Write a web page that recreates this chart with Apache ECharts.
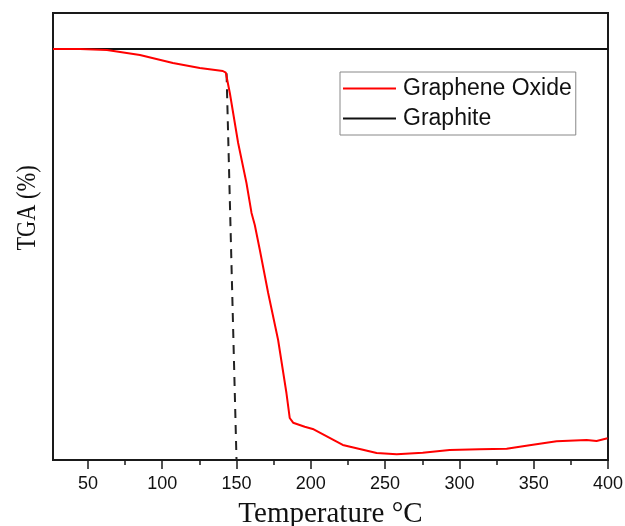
<!DOCTYPE html>
<html>
<head>
<meta charset="utf-8">
<script src="https://cdn.jsdelivr.net/npm/echarts@6/dist/echarts.min.js"></script>
<style>
  html, body { margin: 0; padding: 0; background: #fff; }
  #chart { width: 625px; height: 526px; }
</style>
</head>
<body>
<div id="chart"></div>
<script>
// Temperature range shown on the x axis (°C)
const tempMin = 26.5;
const tempMax = 400;
const majorTicks = [50, 100, 150, 200, 250, 300, 350, 400];
const minorTicks = [75, 125, 175, 225, 275, 325, 375];

// TGA mass (%) range on the y axis
const massMin = 45;
const massMax = 104.8;

// Graphene oxide TGA curve: temperature (°C) and remaining mass (%)
const goTemp = [26.5, 44.6, 62.8, 85.0, 107.2, 125.3, 140.8, 142.8, 145.5, 151.1,
  156.7, 160.1, 162.3, 165.7, 171.3, 178.0, 183.6, 185.8, 188.1, 195.9, 201.3,
  221.5, 244.3, 257.8, 275.3, 293.4, 313.6, 331.8, 347.2, 365.4, 385.6, 392.3, 399.7];
const goMass = [100.0, 99.98, 99.85, 99.18, 98.11, 97.44, 97.04, 96.81, 94.10, 87.41,
  82.06, 78.05, 76.44, 73.09, 67.34, 61.05, 53.96, 50.62, 49.99, 49.45, 49.15,
  47.01, 45.94, 45.76, 45.98, 46.34, 46.43, 46.51, 46.97, 47.50, 47.68, 47.54, 47.90];

// Graphite stays at constant mass over the range
const graphiteTemp = [26.5, 400];
const graphiteMass = [100, 100];

// Onset marker: from the curve's knee down to the axis at 150 °C
const onsetTemp = [143.3, 150];
const onsetMass = [96.75, 45];

const zip = (a, b) => a.map((v, i) => [v, b[i]]);

const chart = echarts.init(document.getElementById('chart'));
const axisColor = '#1a1a1a';

chart.setOption({
  backgroundColor: '#fff',
  animation: false,
  grid: {
    left: 53, right: 17, top: 13, bottom: 66,
    containLabel: false, outerBoundsMode: 'none',
    show: true, borderColor: axisColor, borderWidth: 2, backgroundColor: 'transparent'
  },
  legend: {
    orient: 'vertical',
    left: 340, top: 72,
    padding: [5, 4, 5, 3],
    borderColor: '#888', borderWidth: 1,
    itemWidth: 53, itemHeight: 2, itemGap: 7,
    icon: 'rect',
    data: ['Graphene Oxide', 'Graphite'],
    textStyle: { fontFamily: 'Liberation Sans', fontSize: 23, color: '#111', lineHeight: 22, padding: [0, 0, 0, 2] }
  },
  xAxis: [{
    type: 'value', min: tempMin, max: tempMax,
    name: 'Temperature °C', nameLocation: 'middle', nameGap: 40,
    nameTextStyle: { fontFamily: 'Liberation Serif', fontSize: 29, color: '#111' },
    axisLine: { lineStyle: { color: axisColor, width: 2 } },
    axisTick: { show: true, length: 9, lineStyle: { color: axisColor, width: 1.5 }, customValues: majorTicks },
    axisLabel: { fontFamily: 'Liberation Sans', fontSize: 18, color: '#111', margin: 15, customValues: majorTicks },
    splitLine: { show: false }
  }, {
    type: 'value', min: tempMin, max: tempMax, position: 'bottom',
    axisLine: { show: false },
    axisTick: { show: true, length: 5, lineStyle: { color: axisColor, width: 1.5 }, customValues: minorTicks },
    axisLabel: { show: false },
    splitLine: { show: false }
  }],
  yAxis: {
    type: 'value', min: massMin, max: massMax,
    axisLine: { show: true, lineStyle: { color: axisColor, width: 2 } },
    axisTick: { show: false },
    axisLabel: { show: false },
    splitLine: { show: false }
  },
  graphic: [{
    type: 'text',
    x: 28, y: 208,
    rotation: Math.PI / 2,
    scaleX: 0.8,
    style: {
      text: 'TGA (%)',
      fontFamily: 'Liberation Serif', fontSize: 28, fill: '#111',
      align: 'center', verticalAlign: 'middle'
    }
  }],
  series: [{
    name: 'Graphene Oxide', type: 'line', data: zip(goTemp, goMass),
    symbol: 'none', smooth: false, z: 3,
    lineStyle: { color: '#ff0000', width: 2 }, itemStyle: { color: '#ff0000' }
  }, {
    name: 'Graphite', type: 'line', data: zip(graphiteTemp, graphiteMass),
    symbol: 'none', z: 2,
    lineStyle: { color: '#111', width: 2 }, itemStyle: { color: '#111' }
  }, {
    name: 'onset', type: 'line', data: zip(onsetTemp, onsetMass),
    symbol: 'none', z: 1,
    lineStyle: { color: '#222', width: 2, type: [9, 7] }
  }]
});
</script>
</body>
</html>
